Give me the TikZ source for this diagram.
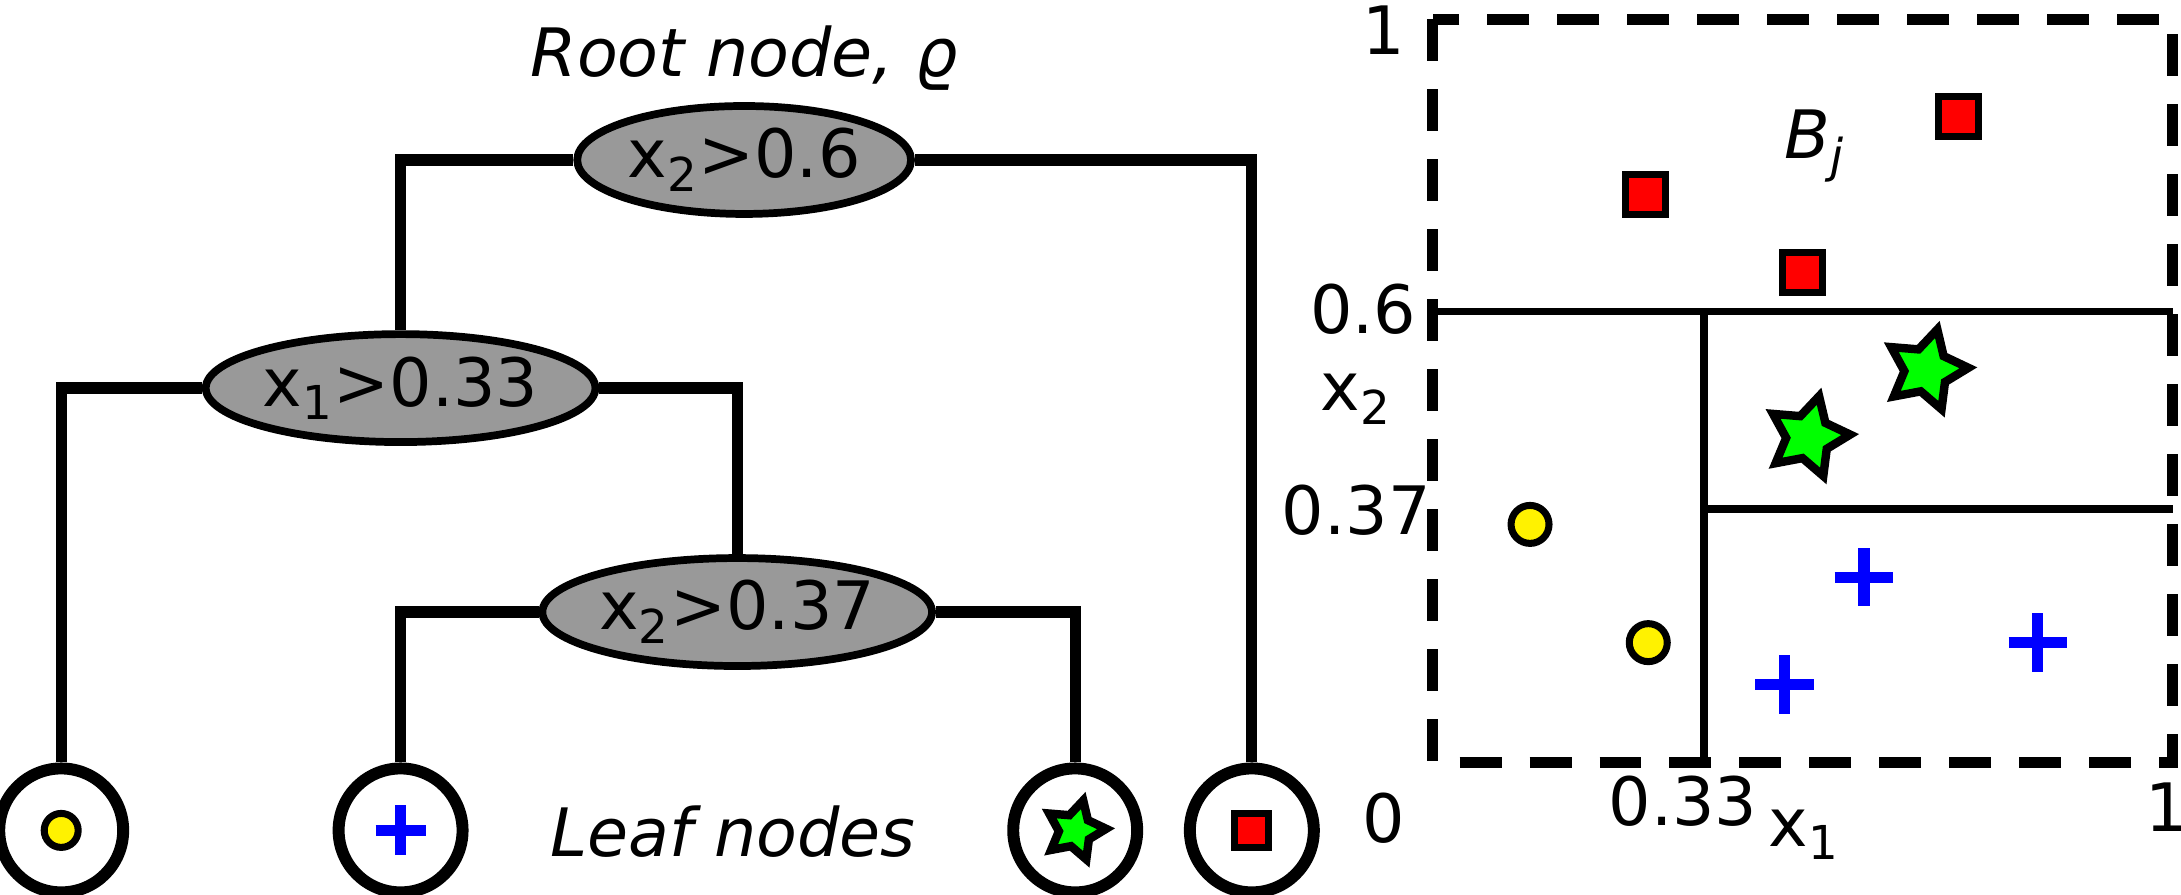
\documentclass[tikz,border=0pt]{standalone}
\usepackage{fontspec}
\setmainfont{DejaVu Sans}
\usetikzlibrary{shapes.geometric}
\begin{document}
\begin{tikzpicture}[x=0.01391cm,y=-0.01391cm,
  split/.style={ellipse,draw,line width=2.2pt,fill=black!40,minimum width=3.34cm,minimum height=1.08cm,inner sep=0pt,font=\fontsize{19}{19}\selectfont},
  tree/.style={line width=3.2pt},
  leaf/.style={circle,draw,line width=3.4pt,minimum size=1.24cm,inner sep=0pt},
  sq/.style={rectangle,draw,line width=2pt,fill=red,minimum size=#1,inner sep=0pt},
  dot/.style={circle,draw,line width=2pt,fill=yellow,minimum size=#1,inner sep=0pt},
  st/.style={star,star points=5,star point ratio=1.9,draw,line width=2.4pt,fill=green,minimum size=#1,inner sep=0pt,rotate=-15},
  pl/.style={blue,line width=3.2pt},
  lab/.style={font=\fontsize{19}{19}\selectfont,inner sep=0pt},
  part/.style={line width=2.2pt}]
\useasboundingbox (0,0) rectangle (1568,643);
% tree
\node[split] (r) at (535,115) {x\textsubscript{2}>0.6};
\node[split] (a) at (288,279) {x\textsubscript{1}>0.33};
\node[split] (b) at (530,440) {x\textsubscript{2}>0.37};
\node[leaf] (l1) at (44,597) {};
\node[leaf] (l2) at (288,597) {};
\node[leaf] (l3) at (773,597) {};
\node[leaf] (l4) at (900,597) {};
\draw[tree] (r.west) -| (a.north);
\draw[tree] (r.east) -| (l4.north);
\draw[tree] (a.west) -| (l1.north);
\draw[tree] (a.east) -| (b.north);
\draw[tree] (b.west) -| (l2.north);
\draw[tree] (b.east) -| (l3.north);
\node[dot=0.34cm] (d0) at (l1) {};
\draw[pl] (270,597) -- (306,597) (288,579) -- (288,615);
\node[st=0.62cm] (s0) at (l3) {};
\node[sq=0.34cm] (q0) at (l4) {};
\node[lab,font=\fontsize{19}{19}\selectfont\itshape] (rt) at (535,42) {Root node, ϱ};
\node[lab,font=\fontsize{19}{19}\selectfont\itshape] (lt) at (527,598) {Leaf nodes};
% partition
\draw[line width=3pt,dash pattern=on 0.42cm off 0.28cm] (1030,14) rectangle (1562,548);
\coordinate (h1) at (1032,224); \coordinate (h2) at (1562,224);
\coordinate (v1) at (1225,224); \coordinate (v2) at (1225,548);
\coordinate (g1) at (1225,366); \coordinate (g2) at (1562,366);
\draw[part] (h1) -- (h2);
\draw[part] (v1) -- (v2);
\draw[part] (g1) -- (g2);
\node[lab] (t1) at (995,22) {1};
\node[lab] (t0) at (995,588) {0};
\node[lab] (t1b) at (1558,580) {1};
\node[lab] (t33) at (1210,576) {0.33};
\node[lab] (tx1) at (1297,600) {x\textsubscript{1}};
\node[lab] (t6) at (980,222) {0.6};
\node[lab] (tx2) at (975,287) {x\textsubscript{2}};
\node[lab] (t37) at (975,367) {0.37};
\node[lab,font=\fontsize{19}{19}\selectfont\itshape] (tb) at (1305,105) {B\textsubscript{j}};
\node[sq=0.4cm] (q1) at (1183,140) {};
\node[sq=0.4cm] (q2) at (1408,84) {};
\node[sq=0.4cm] (q3) at (1296,196) {};
\node[st=0.84cm] (s1) at (1385,266) {};
\node[st=0.84cm] (s2) at (1300,314) {};
\node[dot=0.38cm] (d1) at (1100,377) {};
\node[dot=0.38cm] (d2) at (1185,462) {};
\foreach \x/\y in {1340/415,1283/492,1465/462}
  \draw[pl] (\x-21,\y) -- (\x+21,\y) (\x,\y-21) -- (\x,\y+21);
\end{tikzpicture}
\end{document}
